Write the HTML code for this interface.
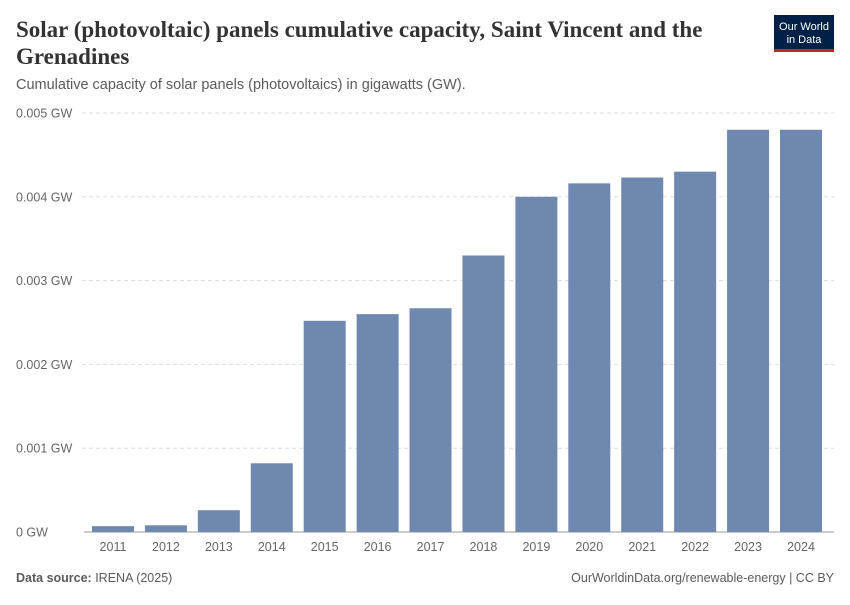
<!DOCTYPE html>
<html><head><meta charset="utf-8"><style>
body{margin:0;background:#fff;width:850px;height:600px;overflow:hidden;font-family:"Liberation Sans",sans-serif;}
</style></head><body>
<svg width="850" height="600" xmlns="http://www.w3.org/2000/svg">
<text x="16" y="37" font-family="Liberation Serif" font-size="23" font-weight="bold" fill="#333">Solar (photovoltaic) panels cumulative capacity, Saint Vincent and the</text>
<text x="16" y="64" font-family="Liberation Serif" font-size="23" font-weight="bold" fill="#333">Grenadines</text>
<text x="16" y="89" font-size="14.5" fill="#5b5b5b">Cumulative capacity of solar panels (photovoltaics) in gigawatts (GW).</text>
<g>
<rect x="774" y="15" width="60" height="35" fill="#002147"/>
<rect x="774" y="49" width="60" height="3" fill="#ce261e"/>
<text x="804" y="30" font-size="11" fill="#fff" text-anchor="middle">Our World</text>
<text x="804" y="43" font-size="11" fill="#fff" text-anchor="middle">in Data</text>
</g>
<g id="grid"></g>
<g id="bars"></g>
<g id="xlab"></g>
<text x="16" y="582" font-size="12.5" fill="#5b5b5b"><tspan font-weight="bold">Data source:</tspan> IRENA (2025)</text>
<text x="834" y="582" font-size="12.5" fill="#5b5b5b" text-anchor="end">OurWorldinData.org/renewable-energy | CC BY</text>
</svg>
<script>
const years=["2011","2012","2013","2014","2015","2016","2017","2018","2019","2020","2021","2022","2023","2024"];
const values=[0.00007,0.00008,0.00026,0.00082,0.00252,0.0026,0.00267,0.0033,0.004,0.00416,0.00423,0.0043,0.0048,0.0048];
const ticks=[0,0.001,0.002,0.003,0.004,0.005];
const tickLabels=["0 GW","0.001 GW","0.002 GW","0.003 GW","0.004 GW","0.005 GW"];
const NS="http://www.w3.org/2000/svg";
const y0=532,y1=113,vmax=0.005;
const yS=v=>y0-(v/vmax)*(y0-y1);
const step=(801-113)/13, bw=42;
const xS=i=>113+i*step;
const g=document.getElementById('grid'),b=document.getElementById('bars'),xl=document.getElementById('xlab');
ticks.forEach((t,i)=>{
 const y=yS(t);
 const l=document.createElementNS(NS,'line');
 l.setAttribute('x1',i==0?84:82);l.setAttribute('x2',834);l.setAttribute('y1',y);l.setAttribute('y2',y);
 l.setAttribute('stroke',i==0?'#999':'#ddd');
 if(i>0)l.setAttribute('stroke-dasharray','4,3');
 
 
 g.appendChild(l);
 const tx=document.createElementNS(NS,'text');
 tx.setAttribute('x',16);tx.setAttribute('y',y+4.5);tx.setAttribute('font-size','12.5');tx.setAttribute('fill','#666');
 tx.textContent=tickLabels[i];
 
 
 g.appendChild(tx);
});
values.forEach((v,i)=>{
 const r=document.createElementNS(NS,'rect');
 r.setAttribute('x',xS(i)-bw/2);r.setAttribute('width',bw);
 r.setAttribute('y',yS(v));r.setAttribute('height',y0-yS(v));
 r.setAttribute('fill','#6e88b0');
 
 
 b.appendChild(r);
 const t=document.createElementNS(NS,'text');
 t.setAttribute('x',xS(i));t.setAttribute('y',551);t.setAttribute('font-size','12.5');t.setAttribute('fill','#666');t.setAttribute('text-anchor','middle');
 t.textContent=years[i];
 
 
 xl.appendChild(t);
});
</script>
</body></html>
